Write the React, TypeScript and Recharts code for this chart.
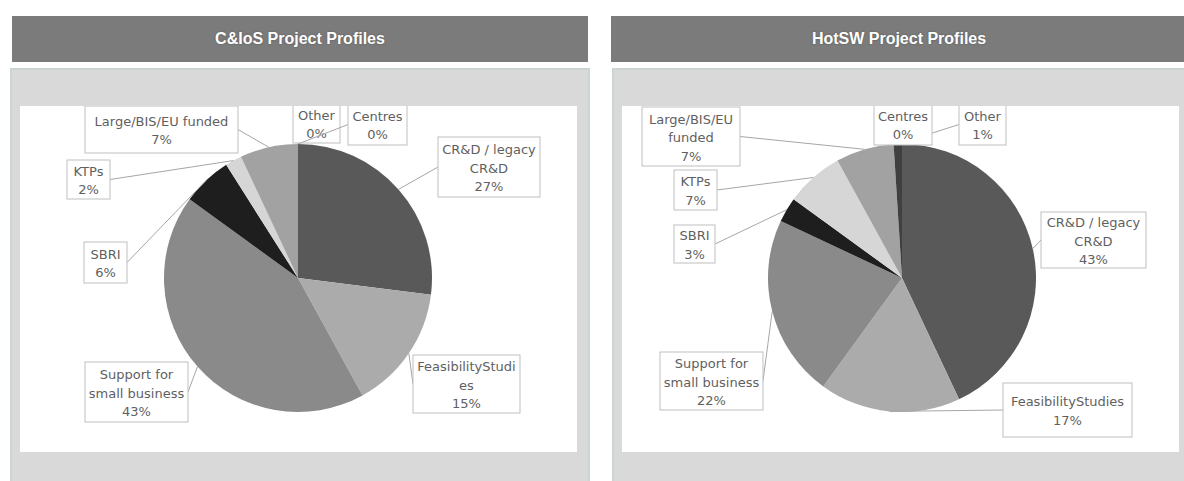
import { PieChart, Pie, Cell } from 'recharts';

const categories = [
  'CR&D / legacy CR&D',
  'FeasibilityStudies',
  'Support for small business',
  'SBRI',
  'KTPs',
  'Large/BIS/EU funded',
  'Other',
  'Centres',
];

const cniosValues = [27, 15, 43, 6, 2, 7, 0, 0];
const hotswValues = [43, 17, 22, 3, 7, 7, 1, 0];

const sliceColors = ['#595959', '#ababab', '#8a8a8a', '#1e1e1e', '#d6d6d6', '#a2a2a2', '#404040', '#7f7f7f'];

// wrapped label text (the percentage line is added from the value)
const cniosLabelLines = [
  ['CR&D / legacy', 'CR&D'],
  ['FeasibilityStudi', 'es'],
  ['Support for', 'small business'],
  ['SBRI'],
  ['KTPs'],
  ['Large/BIS/EU funded'],
  ['Other'],
  ['Centres'],
];
const hotswLabelLines = [
  ['CR&D / legacy', 'CR&D'],
  ['FeasibilityStudies'],
  ['Support for', 'small business'],
  ['SBRI'],
  ['KTPs'],
  ['Large/BIS/EU', 'funded'],
  ['Other'],
  ['Centres'],
];

// label boxes, offset from pie centre: [dx, dy, w, h]
const cniosBoxes = [
  [140, -141, 102, 60],
  [115, 77, 107, 58],
  [-213, 84, 103, 60],
  [-214, -36, 43, 41],
  [-231, -118, 43, 39],
  [-213, -172, 153, 47],
  [-5, -174, 47, 39],
  [50, -174, 59, 41],
];
const hotswBoxes = [
  [139, -66, 105, 56],
  [101, 105, 129, 54],
  [-242, 74, 103, 58],
  [-228, -53, 41, 38],
  [-228, -108, 43, 40],
  [-260, -171, 98, 59],
  [57, -174, 47, 41],
  [-28, -174, 58, 41],
];

const RAD = Math.PI / 180;

function makeLabel(lines: string[][], boxes: number[][]) {
  return (props: any) => {
    const { cx, cy, midAngle, outerRadius, index, value } = props;
    const [dx, dy, w, h] = boxes[index];
    const x = cx + dx;
    const y = cy + dy;
    const px = cx + outerRadius * Math.cos(-midAngle * RAD);
    const py = cy + outerRadius * Math.sin(-midAngle * RAD);
    let ax: number;
    let ay: number;
    if (px > x + w) {
      ax = x + w;
      ay = y + h / 2;
    } else if (px < x) {
      ax = x;
      ay = y + h / 2;
    } else if (py > y + h / 2) {
      ax = px;
      ay = y + h;
    } else {
      ax = px;
      ay = y;
    }
    const text = [...lines[index], `${value}%`];
    const lh = 18.5;
    const y0 = y + h / 2 - ((text.length - 1) * lh) / 2 + 1;
    return (
      <g key={`lbl-${index}`}>
        <line x1={px} y1={py} x2={ax} y2={ay} stroke="#a6a6a6" strokeWidth={1} />
        <rect x={x} y={y} width={w} height={h} fill="#fff" stroke="#bfbfbf" strokeWidth={1} />
        <text textAnchor="middle" fill="#5f5f5f" fontFamily="DejaVu Sans" fontSize={13}>
          {text.map((t, i) => (
            <tspan key={i} x={x + w / 2} y={y0 + i * lh} dominantBaseline="central">
              {t}
            </tspan>
          ))}
        </text>
      </g>
    );
  };
}

interface PanelProps {
  left: number;
  headerLeft: number;
  cx: number;
  title: string;
  values: number[];
  lines: string[][];
  boxes: number[][];
}

function Panel({ left, headerLeft, cx, title, values, lines, boxes }: PanelProps) {
  const data = categories.map((name, i) => ({ name, value: values[i] }));
  return (
    <>
      <div
        style={{
          position: 'absolute',
          left: headerLeft,
          top: 16,
          width: 576,
          height: 46,
          background: '#7b7b7b',
          color: '#fff',
          fontFamily: 'Liberation Sans, Arial, sans-serif',
          fontWeight: 'bold',
          fontSize: 16,
          lineHeight: '46px',
          textAlign: 'center',
          textShadow: '0 0 2px #555',
        }}
      >
        {title}
      </div>
      <div
        style={{
          position: 'absolute',
          left: left + 10,
          top: 68,
          width: 576,
          height: 420,
          background: '#d9d9d9',
          border: '2px solid #cbd6d4',
        }}
      />
      <div style={{ position: 'absolute', left: left + 20, top: 106, width: 557, height: 346, background: '#fff' }}>
        <PieChart width={557} height={346} margin={{ top: 0, right: 0, bottom: 0, left: 0 }}>
          <Pie
            data={data}
            dataKey="value"
            nameKey="name"
            cx={cx}
            cy={172}
            outerRadius={134}
            startAngle={90}
            endAngle={-270}
            stroke="none"
            labelLine={false}
            label={makeLabel(lines, boxes)}
            isAnimationActive={false}
          >
            {data.map((d, i) => (
              <Cell key={d.name} fill={sliceColors[i]} />
            ))}
          </Pie>
        </PieChart>
      </div>
    </>
  );
}

export default function App() {
  return (
    <div style={{ position: 'absolute', left: 0, top: 0, width: 1184, height: 481, overflow: 'hidden', background: '#fff' }}>
      <Panel left={0} headerLeft={12} cx={278} title="C&IoS Project Profiles" values={cniosValues} lines={cniosLabelLines} boxes={cniosBoxes} />
      <Panel left={602} headerLeft={611} cx={280} title="HotSW Project Profiles" values={hotswValues} lines={hotswLabelLines} boxes={hotswBoxes} />
    </div>
  );
}
